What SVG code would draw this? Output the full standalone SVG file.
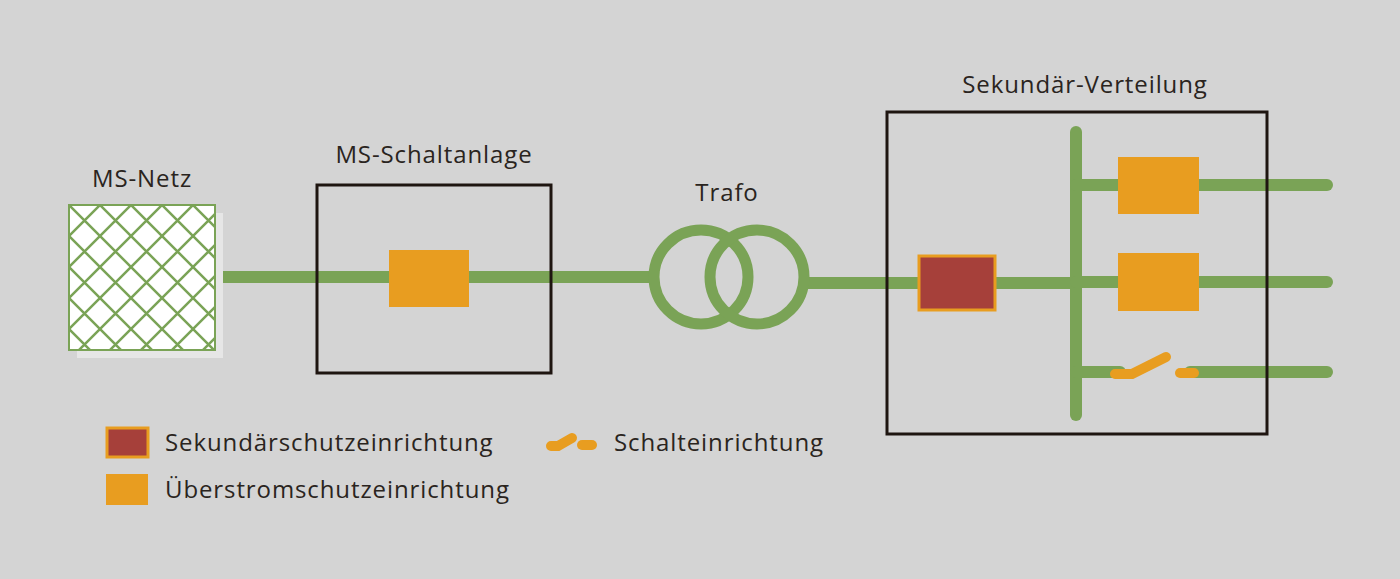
<svg xmlns="http://www.w3.org/2000/svg" width="1400" height="579" viewBox="0 0 1400 579">
<style>
.t{font-family:"Open Sans","Liberation Sans",sans-serif;font-size:24px;fill:#2a2420;letter-spacing:0.9px}
.g{stroke:#7aa356;fill:none;stroke-linecap:round}
.box{fill:none;stroke:#1e1510;stroke-width:3}
.o{fill:#e89d20}
.sw{stroke:#e89d20;stroke-width:10;stroke-linecap:round;fill:none}
</style>
<defs>
<pattern id="lat" x="69" y="205" width="31" height="31" patternUnits="userSpaceOnUse">
<rect width="31" height="31" fill="#fff"/>
<path d="M0 0L31 31M31 0L0 31" stroke="#7aa356" stroke-width="2.5"/>
</pattern>
</defs>
<rect width="1400" height="579" fill="#d4d4d4"/>
<g id="connectors">
<line class="g" x1="215" y1="277" x2="650" y2="277" stroke-width="12"/>
<line class="g" x1="805" y1="283" x2="1076" y2="283" stroke-width="12"/>
<line class="g" x1="1076" y1="132" x2="1076" y2="415" stroke-width="12"/>
<line class="g" x1="1076" y1="185" x2="1327" y2="185" stroke-width="12"/>
<line class="g" x1="1076" y1="282" x2="1327" y2="282" stroke-width="12"/>
<line class="g" x1="1076" y1="372" x2="1120" y2="372" stroke-width="12"/>
<line class="g" x1="1190" y1="372" x2="1327" y2="372" stroke-width="12"/>
</g>
<g id="ms-netz">
<rect x="77" y="213" width="146" height="145" fill="#e6e6e6"/>
<rect x="69" y="205" width="146" height="145" fill="url(#lat)" stroke="#7aa356" stroke-width="2"/>
<text class="t" x="142" y="187" text-anchor="middle">MS-Netz</text>
</g>
<g id="ms-schaltanlage">
<rect class="box" x="317" y="185" width="234" height="188"/>
<rect class="o" x="389" y="250" width="80" height="57"/>
<text class="t" x="434" y="163" text-anchor="middle">MS-Schaltanlage</text>
</g>
<g id="trafo">
<circle class="g" cx="701" cy="277" r="47" stroke-width="11"/>
<circle class="g" cx="757" cy="277" r="47" stroke-width="11"/>
<text class="t" x="727" y="201" text-anchor="middle">Trafo</text>
</g>
<g id="sekundaer-verteilung">
<rect class="box" x="887" y="112" width="380" height="322"/>
<text class="t" x="1085" y="93" text-anchor="middle">Sekundär-Verteilung</text>
<rect x="919" y="256" width="76" height="54" fill="#a6403a" stroke="#e89d20" stroke-width="3"/>
<rect class="o" x="1118" y="157" width="81" height="57"/>
<rect class="o" x="1118" y="253" width="81" height="58"/>
<path class="sw" d="M1115 374H1132L1166 357"/>
<line class="sw" x1="1180" y1="373" x2="1194" y2="373"/>
</g>
<g id="legend">
<rect x="107" y="428" width="41" height="29" fill="#a6403a" stroke="#e89d20" stroke-width="3"/>
<text class="t" x="165" y="451">Sekundärschutzeinrichtung</text>
<rect class="o" x="106" y="474" width="42" height="31"/>
<text class="t" x="165" y="498">Überstromschutzeinrichtung</text>
<path class="sw" stroke-width="6" d="M551 446H558L572 438"/>
<line class="sw" stroke-width="6" x1="582" y1="445" x2="592" y2="445"/>
<text class="t" x="614" y="451">Schalteinrichtung</text>
</g>
</svg>
